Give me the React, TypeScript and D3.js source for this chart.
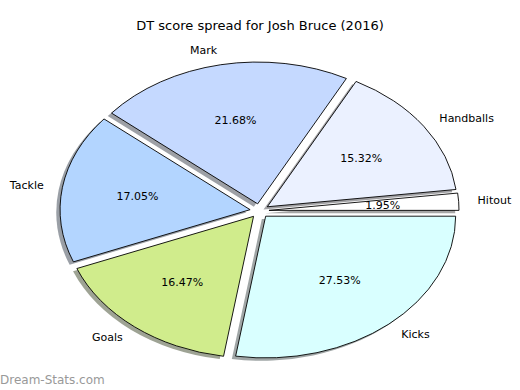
import React, { useEffect, useRef } from 'react';
import * as d3 from 'd3';

// slices in counter-clockwise order starting at 3 o'clock
const categories = ['Hitout', 'Handballs', 'Mark', 'Tackle', 'Goals', 'Kicks'];
const shares = [1.95, 15.32, 21.68, 17.05, 16.47, 27.53];
const colors = ['#ffffff', '#ebf1ff', '#c5d9ff', '#b3d5ff', '#d0ec8c', '#d9ffff'];

const App: React.FC = () => {
  const ref = useRef<SVGSVGElement>(null);

  useEffect(() => {
    if (!ref.current) return;
    const svg = d3.select(ref.current);
    svg.selectAll('*').remove();

    const cx = 259.5;
    const cy = 210.8;
    const rx = 190;
    const ry = 141.8;
    const explode = 0.05;

    svg.append('rect').attr('width', 520).attr('height', 390).attr('fill', '#fff');

    svg.append('text')
      .attr('x', 260)
      .attr('y', 25)
      .attr('text-anchor', 'middle')
      .attr('dominant-baseline', 'central')
      .style('font-family', 'DejaVu Sans')
      .style('font-size', '13px')
      .text('DT score spread for Josh Bruce (2016)');

    const pie = d3.pie<number>()
      .sort(null)
      .value(d => d)
      .startAngle(Math.PI / 2)
      .endAngle(Math.PI / 2 - 2 * Math.PI);

    const arcs = pie(shares);
    const arc = d3.arc<d3.PieArcDatum<number>>().innerRadius(0).outerRadius(1);

    const mid = (d: d3.PieArcDatum<number>) => (d.startAngle + d.endAngle) / 2;
    const off = (d: d3.PieArcDatum<number>) => [Math.sin(mid(d)) * explode * rx, -Math.cos(mid(d)) * explode * ry];

    // shadows first
    svg.append('g').selectAll('path')
      .data(arcs)
      .enter()
      .append('path')
      .attr('transform', d => {
        const [ox, oy] = off(d);
        return `translate(${cx + ox - 0.02 * rx},${cy + oy + 0.02 * ry}) scale(${rx},${ry})`;
      })
      .attr('d', d => arc(d) as string)
      .attr('fill', (d, i) => {
        const c = d3.rgb(colors[i]);
        return d3.rgb(c.r * 0.3, c.g * 0.3, c.b * 0.3).toString();
      })
      .attr('fill-opacity', 0.5);

    svg.append('g').selectAll('path')
      .data(arcs)
      .enter()
      .append('path')
      .attr('transform', d => {
        const [ox, oy] = off(d);
        return `translate(${cx + ox},${cy + oy}) scale(${rx},${ry})`;
      })
      .attr('d', d => arc(d) as string)
      .attr('fill', (d, i) => colors[i])
      .attr('stroke', '#000')
      .attr('stroke-width', 0.9)
      .attr('vector-effect', 'non-scaling-stroke');

    const labels = svg.append('g')
      .style('font-family', 'DejaVu Sans')
      .style('font-size', '11px');

    labels.selectAll('text.cat')
      .data(arcs)
      .enter()
      .append('text')
      .attr('class', 'cat')
      .attr('x', d => cx + Math.sin(mid(d)) * (1.1 + explode) * rx)
      .attr('y', d => cy - Math.cos(mid(d)) * (1.1 + explode) * ry)
      .attr('text-anchor', d => (Math.sin(mid(d)) > 0 ? 'start' : 'end'))
      .attr('dominant-baseline', 'central')
      .text((d, i) => categories[i]);

    labels.selectAll('text.pct')
      .data(arcs)
      .enter()
      .append('text')
      .attr('class', 'pct')
      .attr('x', d => cx + Math.sin(mid(d)) * (0.6 + explode) * rx)
      .attr('y', d => cy - Math.cos(mid(d)) * (0.6 + explode) * ry)
      .attr('text-anchor', 'middle')
      .attr('dominant-baseline', 'central')
      .text(d => `${d.data.toFixed(2)}%`);

    svg.append('text')
      .attr('x', 0)
      .attr('y', 384)
      .attr('fill', '#999')
      .style('font-family', 'DejaVu Sans')
      .style('font-size', '12px')
      .text('Dream-Stats.com');
  }, []);

  return <svg ref={ref} width={520} height={390} style={{ position: 'absolute', left: 0, top: 0 }}></svg>;
};

export default App;
